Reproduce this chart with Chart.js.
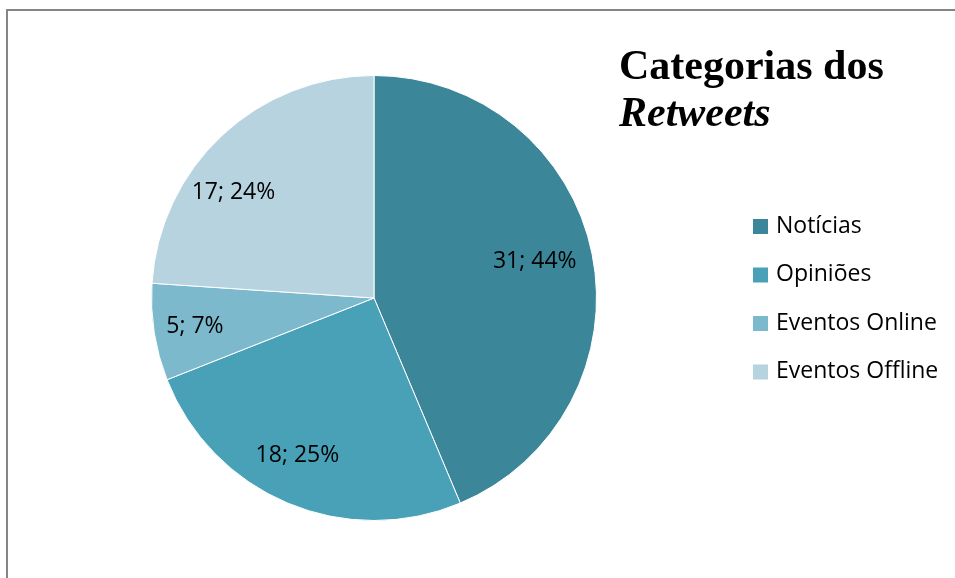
<!DOCTYPE html>
<html>
<head>
<meta charset="utf-8">
<script src="https://cdn.jsdelivr.net/npm/chart.js@4.4.1/dist/chart.umd.min.js"></script>
<style>
  html, body { margin: 0; padding: 0; background: #fff; }
  #wrap { position: relative; width: 955px; height: 578px; }
  #frame {
    position: absolute; left: 6px; top: 9px; width: 1000px; height: 700px;
    border-left: 2px solid #858585; border-top: 2px solid #858585;
  }
</style>
</head>
<body>
<div id="wrap">
  <div id="frame"></div>
  <canvas id="pie" width="955" height="578" style="position:absolute;left:0;top:0"></canvas>
</div>
<script>
// categorias e contagens
const categorias = ["Notícias", "Opiniões", "Eventos Online", "Eventos Offline"];
const retweets = [31, 18, 5, 17];
const cores = ["#3b8799", "#48a1b7", "#7db9cd", "#b6d3df"];

// ajuste fino da posição dos rótulos (px)
const ajusteRotulo = [[-5, -3], [-11, 2], [-12, 2], [-25, 18]];

const total = retweets.reduce((a, b) => a + b, 0);
const fonteTexto = '23px "Open Sans", Lato, sans-serif';

const rotulosPlugin = {
  id: "rotulos",
  afterDatasetsDraw(chart) {
    const ctx = chart.ctx;
    const meta = chart.getDatasetMeta(0);
    ctx.save();
    ctx.font = fonteTexto;
    ctx.fillStyle = "#000";
    ctx.textAlign = "center";
    ctx.textBaseline = "middle";
    meta.data.forEach((arc, i) => {
      const mid = (arc.startAngle + arc.endAngle) / 2;
      const r = arc.outerRadius * 0.76;
      const x = arc.x + Math.cos(mid) * r + ajusteRotulo[i][0];
      const y = arc.y + Math.sin(mid) * r + ajusteRotulo[i][1];
      const pct = Math.round(retweets[i] / total * 100);
      ctx.fillText(retweets[i] + "; " + pct + "%", x, y);
    });
    ctx.restore();
  }
};

// título com "Retweets" em itálico
const tituloPlugin = {
  id: "titulo",
  afterDraw(chart) {
    const ctx = chart.ctx;
    ctx.save();
    ctx.fillStyle = "#000";
    ctx.textBaseline = "alphabetic";
    ctx.font = 'bold 42px "Liberation Serif", "Times New Roman", serif';
    ctx.fillText("Categorias dos", 619, 79);
    ctx.font = 'italic bold 42px "Liberation Serif", "Times New Roman", serif';
    ctx.fillText("Retweets", 619, 126);
    ctx.restore();
  }
};

// legenda desenhada à direita
const legendaPlugin = {
  id: "legenda",
  afterDraw(chart) {
    const ctx = chart.ctx;
    ctx.save();
    ctx.font = fonteTexto;
    ctx.textBaseline = "middle";
    categorias.forEach((c, i) => {
      const y = 226 + i * 48.5;
      ctx.fillStyle = cores[i];
      ctx.fillRect(753, y - 7, 15, 15);
      ctx.fillStyle = "#000";
      ctx.fillText(c, 776, y);
    });
    ctx.restore();
  }
};

new Chart(document.getElementById("pie").getContext("2d"), {
  type: "pie",
  data: {
    labels: categorias,
    datasets: [{
      data: retweets,
      backgroundColor: cores,
      borderColor: "#ffffff",
      borderWidth: 1
    }]
  },
  options: {
    responsive: false,
    animation: false,
    layout: { padding: { left: 151, right: 358, top: 75, bottom: 57 } },
    plugins: {
      legend: { display: false },
      tooltip: { enabled: false }
    }
  },
  plugins: [rotulosPlugin, tituloPlugin, legendaPlugin]
});
</script>
</body>
</html>
